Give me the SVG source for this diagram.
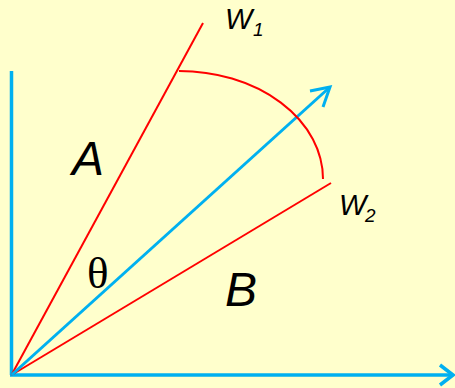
<svg xmlns="http://www.w3.org/2000/svg" width="455" height="388" viewBox="0 0 455 388">
<style>
.bg{fill:#FFFFCC}
.blue{stroke:#00B0F0;fill:none;stroke-linecap:butt}
.red{stroke:#FF0000;fill:none;stroke-width:2}
.lbl{font-family:"Liberation Sans",Arial,sans-serif;font-style:italic;fill:#000}
.th{font-family:"Liberation Serif","Times New Roman",serif;fill:#000}
</style>
<rect class="bg" x="0" y="0" width="455" height="388"/>
<g id="axes">
<path class="blue" stroke-width="3.5" d="M11.5,71 V375"/>
<path class="blue" stroke-width="3.5" d="M10,375 H453"/>
<path class="blue" stroke-width="3.5" d="M440,365 L453,375 L440,385"/>
</g>
<g id="connectors">
<path class="red" d="M11.5,375 L203,23"/>
<path class="red" d="M11.5,375 L331,183"/>
<path class="blue" stroke-width="3" d="M11.5,375 L330,87"/>
<path class="blue" stroke-width="3" d="M310,91 L330,87 L323,107"/>
<path class="red" d="M179,71 A144,108 0 0 1 323,179"/>
</g>
<g id="labels">
<text class="lbl" x="225" y="29" font-size="29">W</text>
<text class="lbl" x="253" y="36" font-size="19">1</text>
<text class="lbl" x="339" y="215" font-size="29">W</text>
<text class="lbl" x="365" y="222" font-size="19">2</text>
<text class="lbl" x="72" y="175" font-size="48">A</text>
<text class="lbl" x="225" y="306" font-size="48">B</text>
<text class="th" x="87" y="288" font-size="45">θ</text>
</g>
</svg>
